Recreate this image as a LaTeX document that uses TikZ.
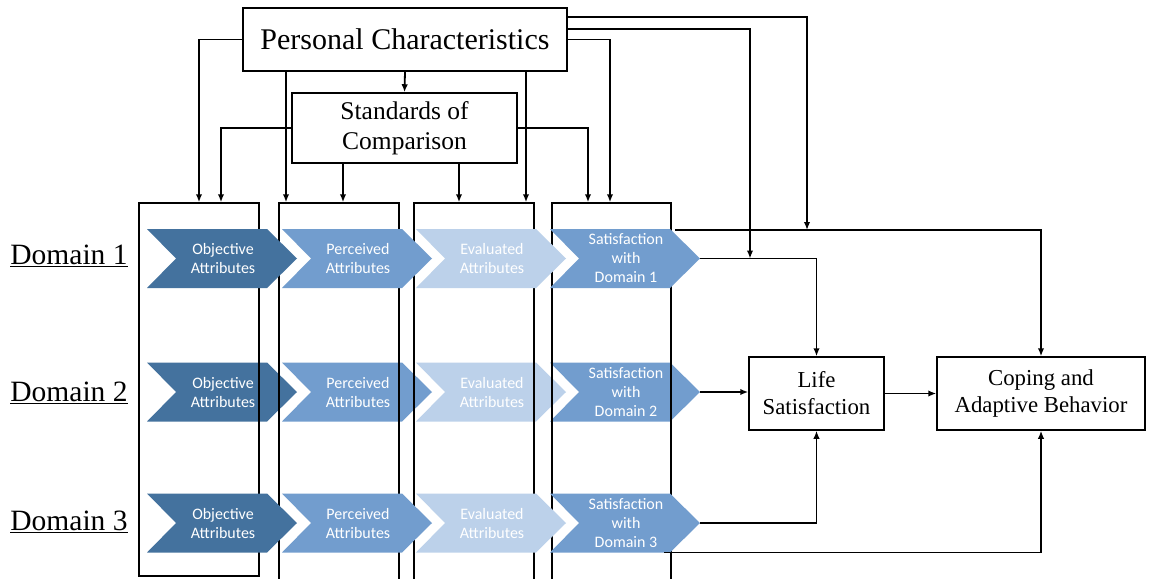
\documentclass[tikz,border=0pt]{standalone}
\usepackage{fontspec}
\setmainfont{Liberation Serif}
\newfontfamily\chevfont{Carlito}
\usetikzlibrary{arrows.meta}

\definecolor{chevdark}{HTML}{44729E}
\definecolor{chevmid}{HTML}{729DCE}
\definecolor{chevlight}{HTML}{BCD1EA}

% chevron: #1 name, #2 left x, #3 centre y, #4 fill colour, #5 label
\newcommand\drawchev[5]{%
  \fill[#4] (#2,#3-29.5) -- (#2+120,#3-29.5) -- (#2+150,#3)
    -- (#2+120,#3+29.5) -- (#2,#3+29.5) -- (#2+29,#3) -- cycle;
  \node[chevtext] (#1) at (#2+76,#3) {#5};
  \coordinate (#1-tip) at (#2+150,#3);
  \coordinate (#1-br) at (#2+120,#3+29.5);
}

% one row of four chevrons: #1 row id, #2 centre y, #3 domain number
\newcommand\chevrow[3]{%
  \drawchev{s#11}{147}{#2}{chevdark}{Objective\\Attributes}
  \drawchev{s#12}{282}{#2}{chevmid}{Perceived\\Attributes}
  \drawchev{s#13}{416}{#2}{chevlight}{Evaluated\\Attributes}
  \drawchev{s#14}{550}{#2}{chevmid}{Satisfaction\\with\\Domain #3}
}

\begin{document}
\begin{tikzpicture}[x=1pt,y=-1pt,
  chevtext/.style={text=white,align=center,inner sep=0pt,
    font=\chevfont\fontsize{16}{19}\selectfont},
  box/.style={draw,line width=1.5pt,inner sep=0pt,align=center},
  colbox/.style={draw,line width=1.5pt,inner sep=0pt},
  domlabel/.style={inner sep=0pt,font=\fontsize{29.5}{32}\selectfont},
  arr/.style={line width=1.8pt,-{Latex[length=8pt,width=6.5pt]}}]
\useasboundingbox (0,0) rectangle (1150,578);
\fill[white] (0,0) rectangle (1150,578);

% top boxes
\node[box,minimum width=324pt,minimum height=63pt,
  font=\fontsize{30}{34}\selectfont] (pc) at (405,39.5) {Personal Characteristics};
\node[box,minimum width=225pt,minimum height=70pt,
  font=\fontsize{25.5}{30}\selectfont] (soc) at (404.5,128) {Standards of\\Comparison};

% outcome boxes
\node[box,minimum width=135pt,minimum height=73pt,
  font=\fontsize{22.8}{27}\selectfont] (life) at (816.5,393.5) {Life\\Satisfaction};
\node[box,minimum width=208pt,minimum height=73pt,
  font=\fontsize{22.8}{27}\selectfont] (coping) at (1041,393.5) {Coping and\\Adaptive Behavior};

% domain labels
\node[domlabel] (d1) at (69,256) {\underline{Domain 1}};
\node[domlabel] (d2) at (69,393) {\underline{Domain 2}};
\node[domlabel] (d3) at (69,522) {\underline{Domain 3}};

% middle row of chevrons sits beneath the column frames
\chevrow{2}{392}{2}

% column frames (the last three run off the lower edge)
\node[colbox,minimum width=120pt,minimum height=373pt] (col1) at (199,389.5) {};
\node[colbox,minimum width=120pt,minimum height=397pt] (col2) at (339,401.5) {};
\node[colbox,minimum width=120pt,minimum height=397pt] (col3) at (474,401.5) {};
\node[colbox,minimum width=119pt,minimum height=397pt] (col4) at (611.5,401.5) {};

% first and third rows lie over the frames
\chevrow{1}{258.5}{1}
\chevrow{3}{523}{3}

% junctions on the lines toward the outcome boxes
\coordinate (j1) at (807,230);
\coordinate (j2) at (750,258.5);

% personal characteristics
\draw[arr] (pc.west) -| (col1.north);
\draw[arr] ([xshift=-119pt]pc.south) -- ([xshift=-119pt]pc.south |- col2.north);
\draw[arr] (pc.south) -- (soc.north);
\draw[arr] ([xshift=121pt]pc.south) -- ([xshift=121pt]pc.south |- col3.north);
\draw[arr] (pc.east) -| ([xshift=-1.5pt]col4.north);
\draw[arr] ([yshift=10.5pt]pc.east) -| (j2);
\draw[arr] ([yshift=22.5pt]pc.east) -| (j1);

% standards of comparison
\draw[arr] (soc.west) -| ([xshift=22pt]col1.north);
\draw[arr] ([xshift=-61.5pt]soc.south) -- ([xshift=-61.5pt]soc.south |- col2.north);
\draw[arr] ([xshift=54.5pt]soc.south) -- ([xshift=54.5pt]soc.south |- col3.north);
\draw[arr] (soc.east) -| ([xshift=-23.5pt]col4.north);

% toward life satisfaction and coping
\draw[arr] ([xshift=3pt]col4.east |- j1) -| (coping.north);
\draw[arr] (s14-tip) -| (life.north);
\draw[arr] (s24-tip) -- (s24-tip -| life.west);
\draw[arr] (s34-tip) -| (life.south);
\draw[arr] (life.east) -- (coping.west);
\draw[arr] ([xshift=-6pt]s34-br) -| (coping.south);
\end{tikzpicture}
\end{document}
